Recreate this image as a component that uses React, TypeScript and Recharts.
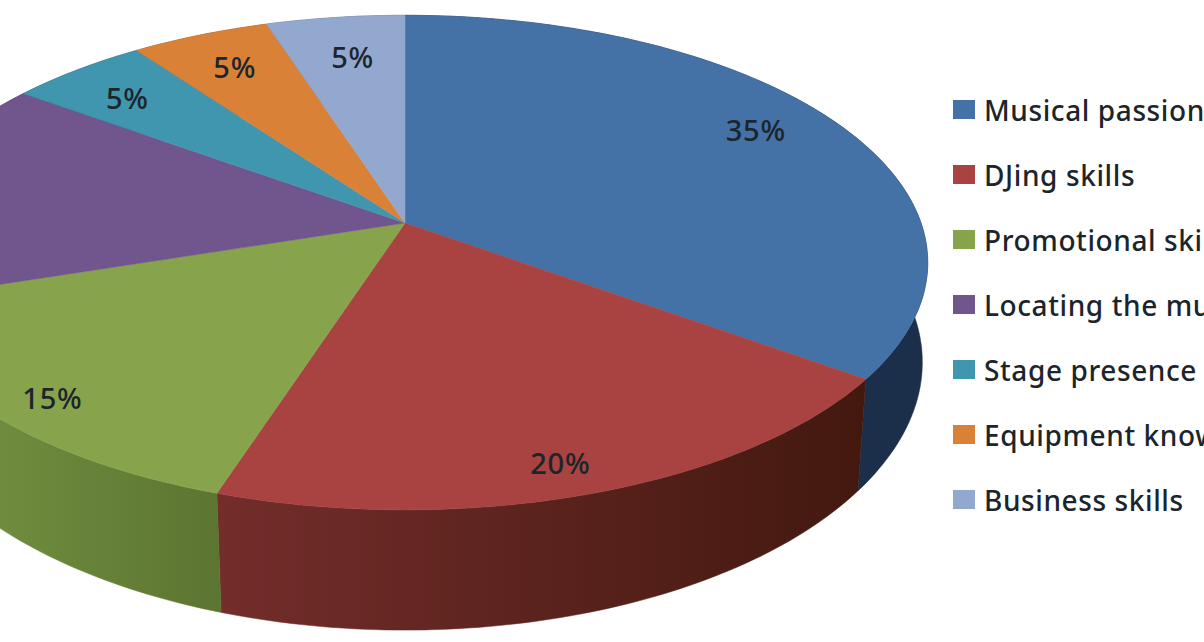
import { PieChart, Pie, Legend } from "recharts";

const categories = [
  "Musical passion",
  "DJing skills",
  "Promotional skills",
  "Locating the music",
  "Stage presence",
  "Equipment knowledge",
  "Business skills",
];
const shares = [35, 20, 15, 15, 5, 5, 5];
const topColors = ["#4471A6", "#A84341", "#87A44C", "#70568D", "#3F96AE", "#DA8138", "#93A8CF"];
const wallColors = ["#1C2F4A", "url(#redWall)", "url(#greenWall)", "#3E2F50", "#235563", "#7C4A20", "#536076"];

const topData = categories.map((name, i) => ({ name, value: shares[i], fill: topColors[i] }));
const wallData = categories.map((name, i) => ({ name, value: shares[i], fill: wallColors[i] }));

// the chart is a tilted pie: a flat disc seen in perspective
const TILT = 0.467;
const PERSPECTIVE = 0.16;
const DEPTH = 101;

// where each percent label sits: fraction of the radius, then a small pixel nudge
const labelRadius = [0.82, 0.9, 0.88, 0.9, 0.8, 0.8, 0.8];
const labelNudge = [[-5, -9], [-11, 1], [4, 8], [0, 10], [-10, 0], [-2, -2], [5, 3]];

function project(cx: number, cy: number, R: number, angle: number, r = 1) {
  const rad = (angle * Math.PI) / 180;
  const u = r * Math.cos(rad);
  const v = -r * Math.sin(rad);
  const w = 1 - PERSPECTIVE * v;
  return { x: cx + (R * u) / w, y: cy + (R * TILT * v) / w, w, v };
}

function rim(cx: number, cy: number, R: number, from: number, to: number) {
  const steps = Math.max(2, Math.ceil(Math.abs(to - from)));
  const out = [];
  for (let i = 0; i <= steps; i++) {
    out.push(project(cx, cy, R, from + ((to - from) * i) / steps));
  }
  return out;
}

const toPath = (pts: { x: number; y: number }[]) =>
  "M" + pts.map((p) => `${p.x.toFixed(1)},${p.y.toFixed(1)}`).join("L") + "Z";

function TopSlice(props: any) {
  const { cx, cy, outerRadius, startAngle, endAngle, fill } = props;
  const pts = [{ x: cx, y: cy }, ...rim(cx, cy, outerRadius, startAngle, endAngle)];
  return <path d={toPath(pts)} fill={fill} stroke={fill} strokeWidth={0.5} />;
}

function WallSlice(props: any) {
  const { cx, cy, outerRadius, startAngle, endAngle, fill } = props;
  const top = rim(cx, cy, outerRadius, startAngle, endAngle);
  // the lower rim pulls in a little more towards the viewer
  const bottom = top
    .map((p) => ({ x: cx + (p.x - cx) * (0.992 - 0.015 * p.v), y: p.y + DEPTH / p.w }))
    .reverse();
  return <path d={toPath([...top, ...bottom])} fill={fill} stroke={fill} strokeWidth={0.5} />;
}

function SliceLabel(props: any) {
  const { cx, cy, outerRadius, midAngle, index, value } = props;
  const p = project(cx, cy, outerRadius, midAngle, labelRadius[index]);
  return (
    <text
      x={p.x + labelNudge[index][0]}
      y={p.y + labelNudge[index][1]}
      textAnchor="middle"
      dominantBaseline="central"
      fontFamily="'Noto Sans', sans-serif"
      fontSize={29}
      fontWeight={500}
      letterSpacing={0.8}
      fill="#1b252b"
    >
      {value}%
    </text>
  );
}

function LegendBox({ payload }: any) {
  // both pies feed the legend, only the top surface gets a row
  const rows = (payload ?? []).filter((item: any) => topColors.includes(item.color));
  return (
    <div>
      {rows.map((item: any) => (
        <div
          key={item.value}
          style={{ display: "flex", alignItems: "center", height: 65, whiteSpace: "nowrap" }}
        >
          <span style={{ width: 22, height: 19, background: item.color, marginRight: 9, flex: "none" }} />
          <span
            style={{
              fontFamily: "'Noto Sans', sans-serif",
              fontSize: 28,
              fontWeight: 500,
              letterSpacing: 0.6,
              color: "#1b252b",
            }}
          >
            {item.value}
          </span>
        </div>
      ))}
    </div>
  );
}

export default function App() {
  return (
    <div style={{ position: "absolute", left: 0, top: 0, width: 1204, height: 642, overflow: "hidden", background: "#fff" }}>
      <PieChart width={1204} height={642} margin={{ top: 0, right: 0, bottom: 0, left: 0 }}>
        <defs>
          <linearGradient id="redWall" gradientUnits="userSpaceOnUse" x1={220} y1={0} x2={860} y2={0}>
            <stop offset="0%" stopColor="#732D2B" />
            <stop offset="100%" stopColor="#43190F" />
          </linearGradient>
          <linearGradient id="greenWall" gradientUnits="userSpaceOnUse" x1={0} y1={0} x2={220} y2={0}>
            <stop offset="0%" stopColor="#6F8C3E" />
            <stop offset="100%" stopColor="#5C7531" />
          </linearGradient>
        </defs>
        <Pie
          data={wallData}
          dataKey="value"
          nameKey="name"
          cx={405}
          cy={223}
          outerRadius={516}
          startAngle={90}
          endAngle={-270}
          legendType="none"
          shape={WallSlice}
          stroke="none"
          isAnimationActive={false}
        />
        <Pie
          data={topData}
          dataKey="value"
          nameKey="name"
          cx={405}
          cy={223}
          outerRadius={516}
          startAngle={90}
          endAngle={-270}
          shape={TopSlice}
          stroke="none"
          label={SliceLabel}
          labelLine={false}
          isAnimationActive={false}
        />
        <Legend
          content={LegendBox}
          itemSorter={null}
          wrapperStyle={{ position: "absolute", left: 953, top: 77, width: 251, overflow: "hidden" }}
        />
      </PieChart>
    </div>
  );
}
